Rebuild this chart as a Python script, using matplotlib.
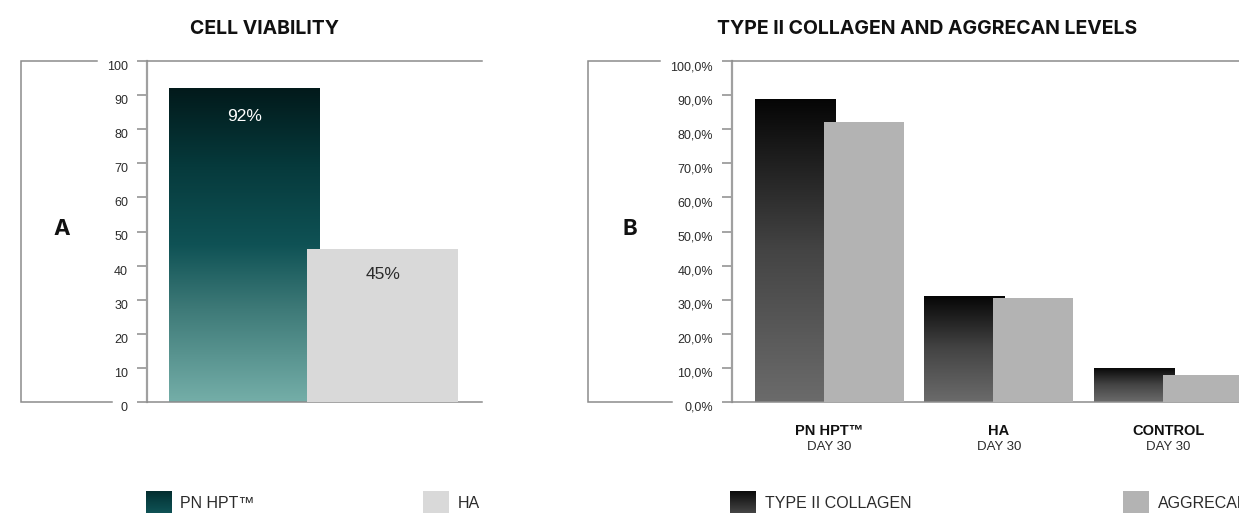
import numpy as np
import matplotlib.pyplot as plt
from matplotlib.colors import LinearSegmentedColormap
from matplotlib.lines import Line2D

# panel A - cell viability
viability_names = ['PN HPT™', 'HA']
viability_values = [92, 45]
viability_labels = ['92%', '45%']
viability_ticks = list(range(0, 101, 10))

# panel B - type II collagen / aggrecan at day 30
groups = ['PN HPT™', 'HA', 'CONTROL']
group_sub = ['DAY 30', 'DAY 30', 'DAY 30']
collagen = [88.9, 31.1, 10.0]
aggrecan = [82.1, 30.5, 7.9]
series_b = ['TYPE II COLLAGEN', 'AGGRECAN']
pct_ticks = list(range(0, 101, 10))

W, H = 1239, 513
fig = plt.figure(figsize=(W / 100, H / 100), dpi=100)

LINE = '#8c8c8c'
TXT = '#2b2b2b'
SANS = ['Liberation Sans', 'DejaVu Sans']
HEAD = ['Inter', 'DejaVu Sans']


def fx(x):
    return x / W


def fy(y):
    return 1 - y / H


teal = LinearSegmentedColormap.from_list(
    'teal', [(0, '#74aea8'), (0.3, '#3d7977'), (0.5, '#0f5255'),
             (0.75, '#063a3c'), (1, '#021a1b')])
dark = LinearSegmentedColormap.from_list('dark', ['#6b6b6b', '#444444', '#050505'])
grad = np.linspace(0, 1, 256).reshape(-1, 1)


def gradient_fill(ax, bar, cmap, z):
    x0, y0 = bar.get_x(), bar.get_y()
    w, h = bar.get_width(), bar.get_height()
    im = ax.imshow(grad, cmap=cmap, origin='lower', aspect='auto',
                   extent=[x0, x0 + w, y0, y0 + h], zorder=z,
                   interpolation='bilinear')
    im.set_clip_path(bar)


def style_axes(ax):
    ax.spines['right'].set_visible(False)
    ax.spines['left'].set_color('#a0a0a0')
    ax.spines['left'].set_linewidth(1.6)
    for s in ['top', 'bottom']:
        ax.spines[s].set_color(LINE)
        ax.spines[s].set_linewidth(1.1)
    ax.tick_params(axis='y', length=7.2, width=1.1, color=LINE, pad=6.5,
                   labelsize=9, labelcolor=TXT)
    ax.tick_params(axis='x', length=0, labelbottom=False)
    for lbl in ax.get_yticklabels():
        lbl.set_verticalalignment('top')
        lbl.set_family(SANS)


def bracket(pts):
    xs = [fx(p[0]) for p in pts]
    ys = [fy(p[1]) for p in pts]
    fig.add_artist(Line2D(xs, ys, transform=fig.transFigure, color=LINE,
                          lw=1.1, solid_joinstyle='miter'))


def legend_square(x, cmap, lo, hi):
    lax = fig.add_axes([fx(x), fy(522), fx(26), 31 / H])
    lax.imshow(np.linspace(lo, hi, 64).reshape(-1, 1), cmap=cmap, origin='lower',
               aspect='auto', vmin=0, vmax=1, extent=[0, 1, 0, 1])
    lax.axis('off')


# ---------- panel A ----------
axA = fig.add_axes([fx(147), fy(402), fx(482 - 147), (402 - 61) / H])
xa = np.arange(len(viability_values)) * 0.914
bars = axA.bar(xa, viability_values, width=1.0, color='none', linewidth=0)
gradient_fill(axA, bars[0], teal, 2)
axA.bar(xa[1], viability_values[1], width=1.0, color='#d9d9d9', linewidth=0, zorder=3)
axA.text(xa[0], viability_values[0] - 8.3, viability_labels[0], color='white',
         ha='center', va='center', fontsize=12.5, family=SANS, zorder=5)
axA.text(xa[1], viability_values[1] - 7.6, viability_labels[1], color=TXT,
         ha='center', va='center', fontsize=12.5, family=SANS, zorder=5)
axA.set_xlim(-0.649, 1.570)
axA.set_ylim(0, 100)
axA.set_yticks(viability_ticks)
axA.set_yticklabels([str(t) for t in viability_ticks])
style_axes(axA)
bracket([(97, 61), (21, 61), (21, 402), (112, 402)])

fig.text(fx(264), fy(29), 'CELL VIABILITY', ha='center', va='center',
         fontsize=14, fontweight='bold', family=HEAD, color='#111111')
fig.text(fx(62), fy(229), 'A', ha='center', va='center', fontsize=16,
         fontweight='bold', family=HEAD, color='#111111')

legend_square(146, teal, 0.35, 0.85)
fig.text(fx(180), fy(503), viability_names[0], ha='left', va='center',
         fontsize=11.5, family=SANS, color=TXT)
fig.add_artist(plt.Rectangle((fx(423), fy(522)), fx(26), 31 / H,
                             transform=fig.transFigure, color='#d9d9d9', lw=0))
fig.text(fx(458), fy(503), viability_names[1], ha='left', va='center',
         fontsize=11.5, family=SANS, color=TXT)

# ---------- panel B ----------
axB = fig.add_axes([fx(732), fy(402), fx(1290 - 732), (402 - 61) / H])
xb = np.arange(len(groups))
bw = 0.472
off = 0.2035
cbars = axB.bar(xb - off, collagen, width=bw, color='none', linewidth=0)
for b in cbars:
    gradient_fill(axB, b, dark, 2)
axB.bar(xb + off, aggrecan, width=bw, color='#b3b3b3', linewidth=0, zorder=3)
axB.set_xlim(-0.575, 2.717)
axB.set_ylim(0, 100)
axB.set_yticks(pct_ticks)
axB.set_yticklabels([f'{t},0%' for t in pct_ticks])
style_axes(axB)
for i, (g, s) in enumerate(zip(groups, group_sub)):
    axB.annotate(g, xy=(xb[i], 0), xycoords=('data', 'axes fraction'),
                 xytext=(0, -21), textcoords='offset points', ha='center',
                 va='center', fontsize=10.5, fontweight='bold', family=SANS,
                 color='#111111', annotation_clip=False)
    axB.annotate(s, xy=(xb[i], 0), xycoords=('data', 'axes fraction'),
                 xytext=(0, -32.5), textcoords='offset points', ha='center',
                 va='center', fontsize=9.5, family=SANS, color=TXT,
                 annotation_clip=False)
bracket([(660, 61), (588, 61), (588, 402), (672, 402)])

fig.text(fx(927), fy(29), 'TYPE II COLLAGEN AND AGGRECAN LEVELS', ha='center',
         va='center', fontsize=14, fontweight='bold', family=HEAD, color='#111111')
fig.text(fx(630), fy(229), 'B', ha='center', va='center', fontsize=16,
         fontweight='bold', family=HEAD, color='#111111')

legend_square(730, dark, 0.3, 0.95)
fig.text(fx(765), fy(503), series_b[0], ha='left', va='center',
         fontsize=11.5, family=SANS, color=TXT)
fig.add_artist(plt.Rectangle((fx(1123), fy(522)), fx(26), 31 / H,
                             transform=fig.transFigure, color='#b3b3b3', lw=0))
fig.text(fx(1158), fy(503), series_b[1], ha='left', va='center',
         fontsize=11.5, family=SANS, color=TXT)

fig.savefig('out.png', dpi=100)
